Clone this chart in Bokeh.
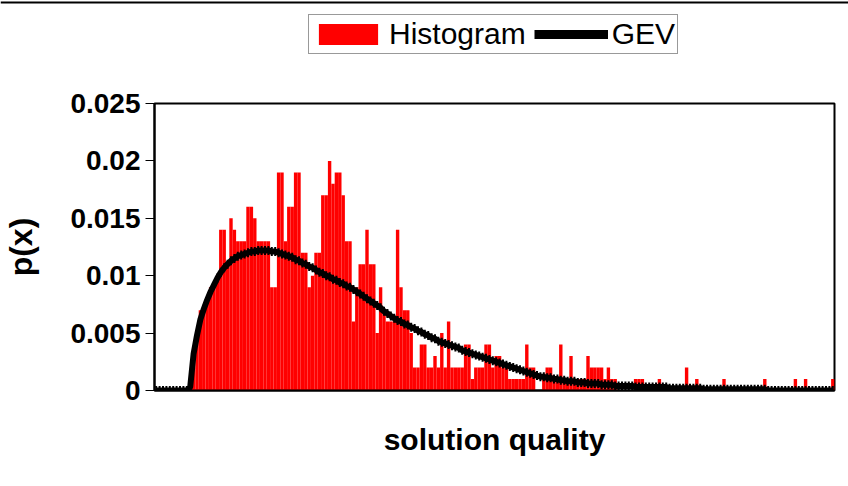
import math
from bokeh.plotting import figure
from bokeh.layouts import column
from bokeh.models import Range1d, FixedTicker, Legend, LegendItem, Span
from bokeh.embed import file_html
from bokeh.resources import INLINE

# ---- data ----
bins = list(range(200))

hist = [
    0, 0, 0, 0, 0, 0, 0, 0, 0, 0,
    0, 0.002, 0.005, 0.007, 0.007, 0.008, 0.009, 0.009, 0.010, 0.014,
    0.014, 0.011, 0.015, 0.014, 0.013, 0.013, 0.013, 0.016, 0.016, 0.015,
    0.013, 0.013, 0.013, 0.013, 0.009, 0.009, 0.019, 0.019, 0.013, 0.016,
    0.016, 0.019, 0.019, 0.012, 0.012, 0.009, 0.010, 0.012, 0.012, 0.017,
    0.017, 0.020, 0.018, 0.019, 0.019, 0.017, 0.013, 0.013, 0.006, 0.009,
    0.011, 0.011, 0.014, 0.011, 0.011, 0.005, 0.009, 0.007, 0.006, 0.006,
    0.006, 0.014, 0.009, 0.007, 0.007, 0.005, 0.002, 0.002, 0.004, 0.004,
    0.002, 0.002, 0.003, 0.002, 0.005, 0.002, 0.006, 0.002, 0.002, 0.002,
    0.002, 0.004, 0.004, 0.001, 0.002, 0.002, 0.002, 0.004, 0.004, 0.002,
    0.003, 0.003, 0.002, 0.002, 0.001, 0.001, 0.001, 0.001, 0.001, 0.004,
    0.002, 0.002, 0, 0, 0.001, 0.002, 0.002, 0.001, 0.001, 0.004,
    0.001, 0.001, 0.003, 0.001, 0.001, 0.001, 0.001, 0.003, 0.002, 0.002,
    0.002, 0.002, 0.001, 0.002, 0.001, 0.001, 0, 0, 0, 0,
    0, 0.001, 0.001, 0.001, 0, 0, 0, 0, 0.001, 0,
    0, 0, 0, 0, 0, 0, 0.002, 0, 0, 0.001,
    0, 0, 0, 0, 0, 0, 0, 0.001, 0, 0,
    0, 0, 0, 0, 0, 0, 0, 0, 0, 0.001,
    0, 0, 0, 0, 0, 0, 0, 0, 0.001, 0,
    0, 0.001, 0, 0, 0, 0, 0, 0, 0, 0.001,
]

gev = [
    0, 0, 0, 0, 0, 0, 0, 0, 0, 0,
    0.0003, 0.0032, 0.0048, 0.0062, 0.0071, 0.0079, 0.0086, 0.0092, 0.0098, 0.0103,
    0.0107, 0.0110, 0.0113, 0.0115, 0.0117, 0.0118, 0.0119, 0.0120, 0.0121, 0.0121,
    0.0122, 0.0122, 0.0122, 0.0122, 0.0121, 0.0121, 0.0120, 0.0119, 0.0118, 0.0117,
    0.0116, 0.0114, 0.0113, 0.0111, 0.0110, 0.0108, 0.0107, 0.0105, 0.0103, 0.0102,
    0.0100, 0.0099, 0.0097, 0.0096, 0.0094, 0.0093, 0.0091, 0.0090, 0.0088, 0.0086,
    0.0084, 0.0082, 0.0080, 0.0078, 0.0076, 0.0074, 0.0072, 0.0069, 0.0067, 0.0065,
    0.0063, 0.0061, 0.0060, 0.0058, 0.0057, 0.0055, 0.0054, 0.0052, 0.0051, 0.0049,
    0.0048, 0.0046, 0.0045, 0.0043, 0.0042, 0.0041, 0.0040, 0.0039, 0.0038, 0.0037,
    0.0035, 0.0034, 0.0033, 0.0032, 0.0031, 0.0030, 0.0029, 0.0028, 0.0027, 0.0026,
    0.0025, 0.0024, 0.0023, 0.0022, 0.0021, 0.0020, 0.0019, 0.0018, 0.0017, 0.0016,
    0.0015, 0.0014, 0.0013, 0.0012, 0.0012, 0.0011, 0.0011, 0.0010, 0.0010, 0.0009,
    0.0009, 0.0008, 0.0008, 0.0008, 0.0007, 0.0007, 0.0007, 0.0006, 0.0006, 0.0006,
    0.0006, 0.0005, 0.0005, 0.0005, 0.0005, 0.0004, 0.0004, 0.0004, 0.0004, 0.0004,
    0.0004, 0.0003, 0.0003, 0.0003, 0.0003, 0.0003, 0.0003, 0.0003, 0.0003, 0.0003,
    0.0003, 0.0002, 0.0002, 0.0002, 0.0002, 0.0002, 0.0002, 0.0002, 0.0002, 0.0002,
    0.0002, 0.0001, 0.0001, 0.0001, 0.0001, 0.0001, 0.0001, 0.0001, 0.0001, 0.0001,
    0.0001, 0.0001, 0.0001, 0.0001, 0.0001, 0.0001, 0.0001, 0.0001, 0.0001, 0.0001,
    0, 0, 0, 0, 0, 0, 0, 0, 0, 0,
    0, 0, 0, 0, 0, 0, 0, 0, 0, 0,
]

y_ticks = [0, 0.005, 0.01, 0.015, 0.02, 0.025]
y_tick_labels = ["0", "0.005", "0.01", "0.015", "0.02", "0.025"]

x_title = "solution quality"
y_title = "p(x)"
series_names = ["Histogram", "GEV"]

FONT = "Liberation Sans"
RED = "#ff0000"

# ---- legend strip (top of the chart) ----
lg = figure(width=848, height=85, output_backend="svg", toolbar_location=None,
            x_range=Range1d(0, 848), y_range=Range1d(0, 85),
            min_border_left=0, min_border_right=0, min_border_top=0,
            min_border_bottom=0)
lg.frame_align = False
lg.axis.visible = False
lg.grid.visible = False
lg.outline_line_color = None
lg.background_fill_color = "white"
lg.border_fill_color = "white"
lg_bar = lg.vbar(x=[float("nan")], top=[float("nan")], width=1,
                 fill_color=RED, line_color=None)
lg_line = lg.line([float("nan")], [float("nan")], line_width=9, color="black")
lg.add_layout(Span(location=83, dimension="width", line_color="black",
                   line_width=2))
legend = Legend(items=[LegendItem(label=series_names[0], renderers=[lg_bar]),
                       LegendItem(label=series_names[1], renderers=[lg_line])],
                location=(308, 31), orientation="horizontal",
                glyph_width=74, glyph_height=26, label_height=26,
                label_text_font=FONT, label_text_font_size="30px",
                label_text_color="black",
                border_line_color="#333333", border_line_width=1.5,
                padding=2, spacing=8, label_standoff=4, margin=0,
                background_fill_color="white", background_fill_alpha=1)
lg.add_layout(legend)

# ---- main chart ----
xc = [b + 0.5 for b in bins]

p = figure(width=840, height=393, output_backend="svg", toolbar_location=None,
           x_range=Range1d(0, len(bins)), y_range=Range1d(0, 0.025),
           min_border_left=152, min_border_right=6,
           min_border_top=18, min_border_bottom=88)
p.background_fill_color = "white"
p.border_fill_color = "white"
p.xgrid.visible = False
p.ygrid.visible = False
p.outline_line_color = "black"
p.outline_line_width = 2

p.vbar(x=xc, top=hist, width=1, fill_color=RED, line_color=None)
p.line(xc, gev, line_width=6, color="black")
p.scatter(xc, gev, marker="dash", angle=math.pi / 2, size=9, line_width=2,
          color="black")

# y axis
yax = p.yaxis[0]
yax.ticker = FixedTicker(ticks=y_ticks)
yax.major_label_overrides = dict(zip(y_ticks, y_tick_labels))
yax.major_label_text_font = FONT
yax.major_label_text_font_style = "bold"
yax.major_label_text_font_size = "28px"
yax.major_label_text_color = "black"
yax.major_label_standoff = 5
yax.axis_line_width = 2
yax.axis_line_color = "black"
yax.major_tick_out = 9
yax.major_tick_in = 0
yax.major_tick_line_color = "black"
yax.minor_tick_line_color = None
yax.axis_label = y_title
yax.axis_label_text_font = FONT
yax.axis_label_text_font_style = "bold"
yax.axis_label_text_font_size = "32px"
yax.axis_label_text_color = "black"
yax.axis_label_standoff = 28

# x axis
xax = p.xaxis[0]
xax.ticker = FixedTicker(ticks=[])
xax.axis_line_width = 2
xax.axis_line_color = "black"
xax.major_tick_line_color = None
xax.minor_tick_line_color = None
xax.axis_label = x_title
xax.axis_label_text_font = FONT
xax.axis_label_text_font_style = "bold"
xax.axis_label_text_font_size = "30px"
xax.axis_label_text_color = "black"
xax.axis_label_standoff = 32

page = column(lg, p, spacing=0)
open("out.html", "w").write(file_html(page, INLINE))
